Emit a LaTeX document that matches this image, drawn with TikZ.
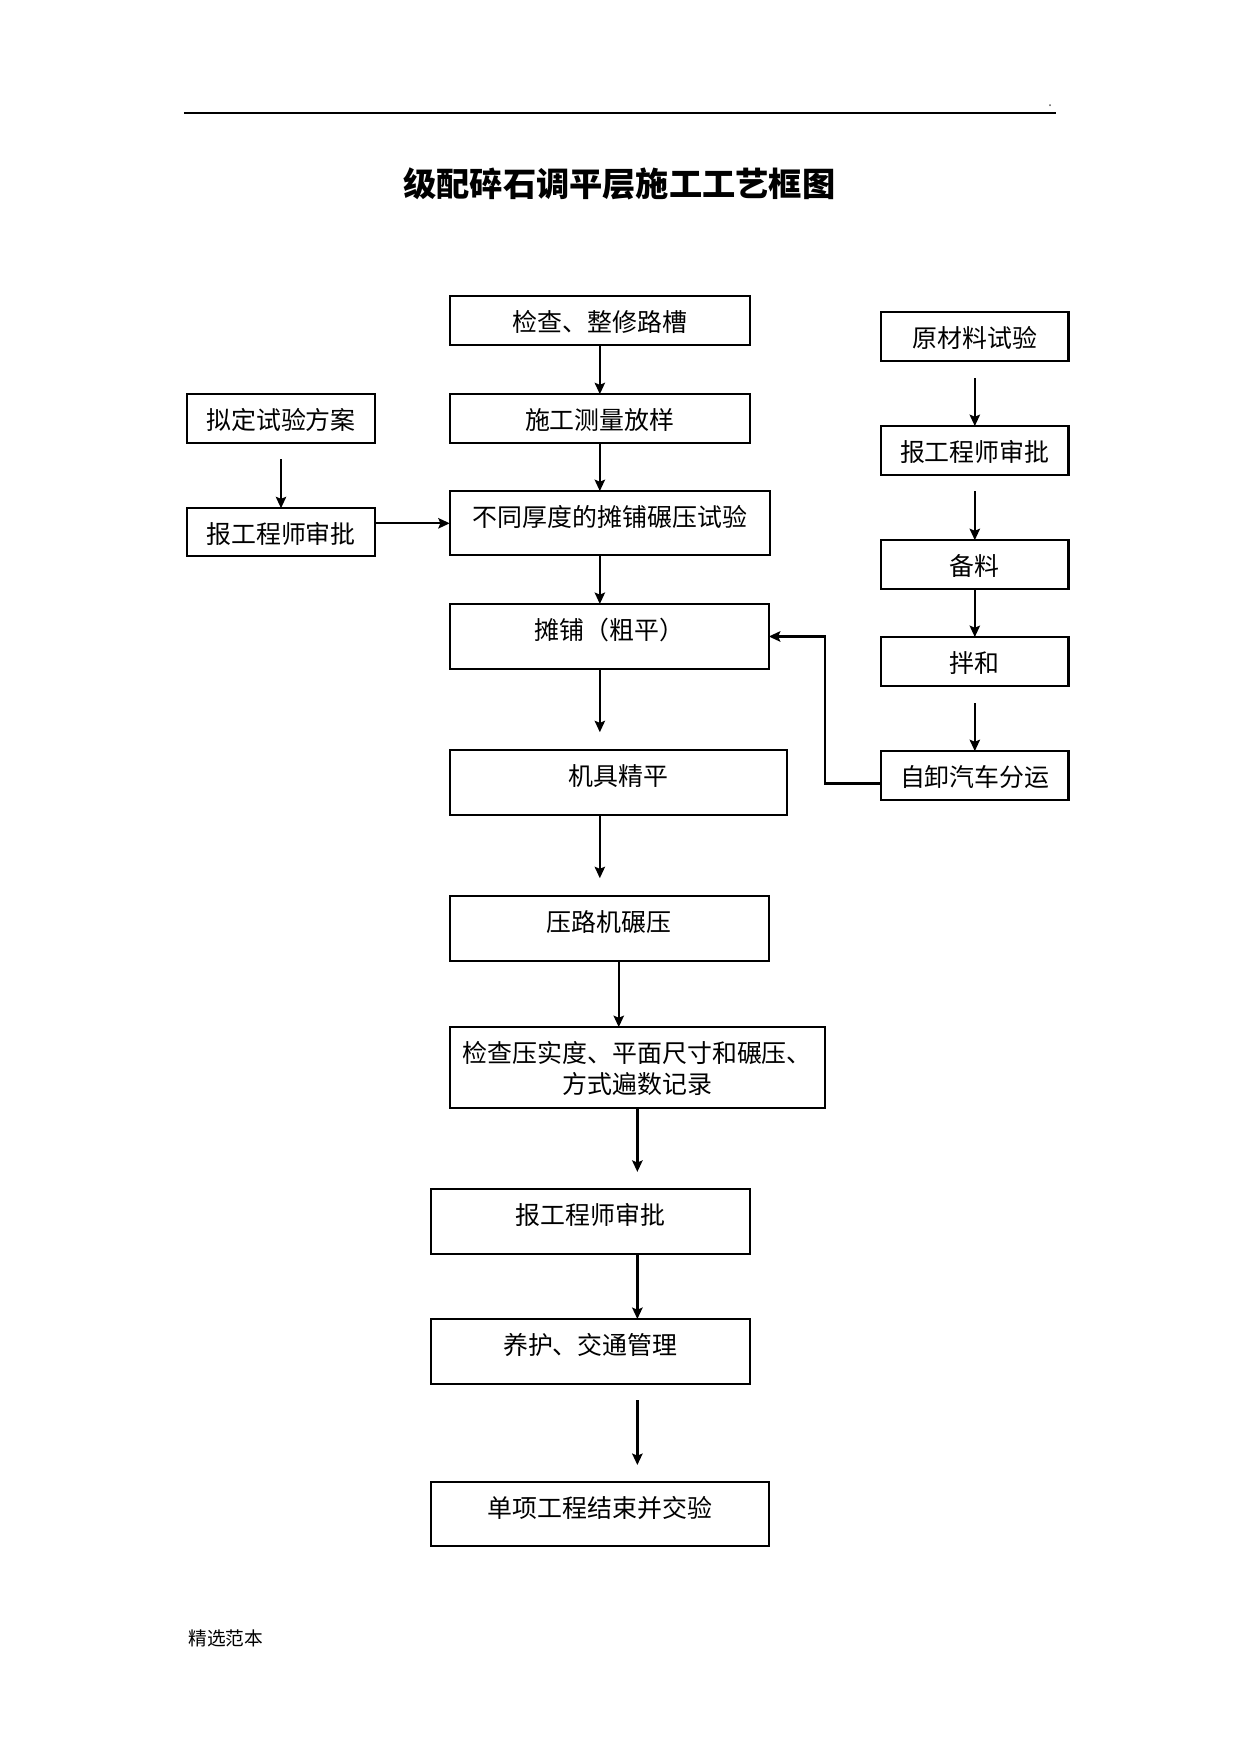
\documentclass[tikz,border=0pt]{standalone}
\usepackage{fontspec}
\setmainfont{Noto Sans CJK SC}
\usetikzlibrary{arrows.meta, calc, positioning}
\tikzstyle{block} = [rectangle, line width=1pt, inner sep=0pt, outer sep=0pt, text height=6mm, text depth=5mm, text centered, draw=black, font=\fontsize{12pt}{14.9pt}\selectfont]
\tikzstyle{short} = [text depth=2.3mm]
\tikzstyle{arrow} = [line width=1pt,->,>={Stealth[length=5.5pt,width=5pt,inset=1pt]}]
\tikzstyle{thickarrow} = [arrow, line width=1.6pt]
\tikzstyle{plain} = [inner sep=0pt]

\begin{document}
\begin{tikzpicture}
	\useasboundingbox (0,0) rectangle (210mm,-296.8mm);
	% header and title
	\draw[line width=1pt] (31.1mm,-19.1mm) -- (178.7mm,-19.1mm);
	\node (Dot) [plain, anchor=base, font=\fontsize{7pt}{8pt}\selectfont, text=black!60] at (177.7mm,-18.1mm) {.};
	\node (Title) [plain, anchor=base, font=\fontsize{16pt}{19pt}\selectfont\bfseries] at (104.8mm,-33.3mm) {级配碎石调平层施工工艺框图};
	% main column
	\node (Check) [block, short, text width=50.8mm, anchor=north west] at (76.1mm,-50.1mm) {检查、整修路槽};
	\node (Survey) [block, short, text width=50.8mm, below right=8.3mm and 0mm of Check.south west] {施工测量放样};
	\node (Trial) [block, text depth=4.8mm, text width=54.2mm, below right=8.1mm and 0mm of Survey.south west] {不同厚度的摊铺碾压试验};
	\node (Spread) [block, text width=54mm, below right=8.3mm and 0mm of Trial.south west] {摊铺（粗平）};
	\node (Level) [block, text width=57mm, below right=13.7mm and 0mm of Spread.south west] {机具精平};
	\node (Roll) [block, text width=54mm, below right=13.7mm and 0mm of Level.south west] {压路机碾压};
	\node (Inspect) [block, text depth=7.7mm, text width=63.5mm, below right=11.2mm and 0mm of Roll.south west] {检查压实度、平面尺寸和碾压、\\方式遍数记录};
	\node (Approve) [block, text width=54mm, below right=13.7mm and -3.2mm of Inspect.south west] {报工程师审批};
	\node (Cure) [block, text width=54mm, below right=11mm and 0mm of Approve.south west] {养护、交通管理};
	\node (Finish) [block, text depth=4.8mm, text width=57.2mm, below right=16.6mm and 0mm of Cure.south west] {单项工程结束并交验};
	% left column
	\node (Plan) [block, short, text width=31.7mm, left=12.7mm of Survey] {拟定试验方案};
	\node (LApprove) [block, text depth=2.1mm, text width=31.7mm, below=11mm of Plan] {报工程师审批};
	% right column
	\node (Raw) [block, short, text width=31.7mm, below right=2.7mm and 22.2mm of Check.north east] {原材料试验};
	\node (RApprove) [block, short, text width=31.7mm, below=11mm of Raw] {报工程师审批};
	\node (Stock) [block, short, text width=31.7mm, below=11mm of RApprove] {备料};
	\node (Mix) [block, short, text width=31.7mm, below=8.1mm of Stock] {拌和};
	\node (Truck) [block, short, text width=31.7mm, below=11mm of Mix] {自卸汽车分运};
	% connectors
	\draw [arrow] (Check) -- (Survey);
	\draw [arrow] (Survey) -- (Survey |- Trial.north);
	\draw [arrow] (Trial.south -| Check) -- (Spread.north -| Check);
	\draw [arrow, shorten >=3mm] (Spread.south -| Check) -- (Level.north -| Check);
	\draw [arrow, shorten >=3mm] (Level.south -| Check) -- (Roll.north -| Check);
	\draw [arrow] ([xshift=1.6mm]Roll.south) -- ([xshift=1.6mm]Roll.south |- Inspect.north);
	\draw [thickarrow, shorten >=2.9mm] (Inspect) -- (Inspect |- Approve.north);
	\draw [thickarrow] (Inspect |- Approve.south) -- (Inspect |- Cure.north);
	\draw [thickarrow, shorten <=2.7mm, shorten >=2.9mm] (Inspect |- Cure.south) -- (Inspect |- Finish.north);
	\draw [arrow, shorten <=2.7mm] (Plan) -- (LApprove);
	\draw [arrow] ([yshift=1.5mm]LApprove.east) -- ([yshift=1.5mm]LApprove.east -| Trial.west);
	\draw [arrow, shorten <=2.9mm] (Raw) -- (RApprove);
	\draw [arrow, shorten <=2.7mm] (RApprove) -- (Stock);
	\draw [arrow] (Stock) -- (Mix);
	\draw [arrow, shorten <=2.9mm] (Mix) -- (Truck);
	\draw [arrow, line width=1.2pt] ([yshift=-1.3mm]Truck.west) -| (Inspect.east |- Spread.east) -- (Spread.east);
	% footer
	\node (Footer) [plain, anchor=base west, font=\fontsize{9pt}{11pt}\selectfont] at (31.8mm,-278.4mm) {精选范本};
\end{tikzpicture}
\end{document}
